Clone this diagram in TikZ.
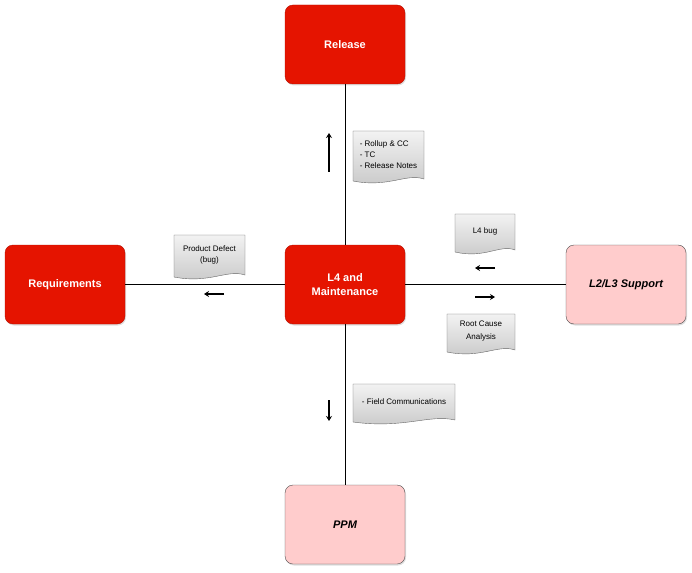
\documentclass[tikz,border=0pt]{standalone}
\usepackage{fontspec}
\setmainfont{Liberation Sans}
\usetikzlibrary{arrows.meta, positioning, shadows}
\definecolor{boxred}{RGB}{229, 20, 0}
\definecolor{boxredline}{RGB}{180, 16, 0}
\definecolor{boxpink}{RGB}{255, 204, 204}
\definecolor{docgray}{RGB}{200, 200, 200}
\tikzset{
    mainbox/.style={draw=boxredline, fill=boxred, rounded corners=8pt, minimum width=120pt, minimum height=79pt,
        text=white, font=\fontsize{11}{14}\selectfont\bfseries, align=center, drop shadow={opacity=0.25, shadow xshift=1pt, shadow yshift=-1.5pt}},
    pinkbox/.style={draw=black!70, fill=boxpink, rounded corners=8pt, minimum width=120pt, minimum height=79pt,
        font=\fontsize{11}{14}\selectfont\bfseries\itshape, align=center, drop shadow={opacity=0.25, shadow xshift=1pt, shadow yshift=-1.5pt}},
    doctext/.style={font=\fontsize{8}{11}\selectfont, inner sep=1pt},
    link/.style={draw, thick},
    hint/.style={-{Stealth[length=5pt, width=6pt]}, line width=1.4pt}
}
% wavy-bottom document at (x1,y1)-(x2,y2)
\newcommand{\docnode}[7][left]{%
    \shade[top color=white!95!black, bottom color=docgray, draw=black!60]
        (#3,#4) -- (#5,#4) -- (#5,#6-3)
        .. controls ({#5-0.25*(#5-#3)},#6-9) and ({#3+0.5*(#5-#3)},#6+6) .. (#3,#6-1) -- cycle;
    \node[doctext, align=#1] (#2) at ({(#3+#5)/2},{(#4+#6)/2-2}) {#7};}
\begin{document}
\begin{tikzpicture}[x=1pt, y=-1pt]
    \useasboundingbox (0,0) rectangle (692,572);

    % Boxes
    \node[mainbox] (l4) at (345,284.5) {L4 and\\Maintenance};
    \node[mainbox] (release) at (345,44.5) {Release};
    \node[mainbox] (req) at (65,284.5) {Requirements};
    \node[pinkbox] (support) at (626,284.5) {L2/L3 Support};
    \node[pinkbox] (ppm) at (345,524.5) {PPM};

    % Links
    \draw[link] (l4) -- (release);
    \draw[link] (l4) -- (req);
    \draw[link] (l4) -- (support);
    \draw[link] (l4) -- (ppm);

    % Documents
    \docnode{notes}{353}{131}{424}{182}{- Rollup \& CC\\- TC\\- Release Notes}
    \docnode[center]{defect}{174}{235}{245}{278}{Product Defect\\(bug)}
    \docnode[center]{bug}{455}{214}{515}{253}{L4 bug}
    \docnode[center]{cause}{447}{314}{515}{353}{Root Cause\\[2pt]Analysis}
    \docnode{field}{353}{384}{455}{423}{- Field Communications}

    % Direction hints
    \draw[hint, {Stealth[length=5pt, width=6pt]}-] (329,133) -- (329,172);
    \draw[hint] (224,294) -- (204,294);
    \draw[hint] (495,268) -- (475,268);
    \draw[hint] (475,297) -- (495,297);
    \draw[hint] (329,400) -- (329,421);
\end{tikzpicture}
\end{document}
